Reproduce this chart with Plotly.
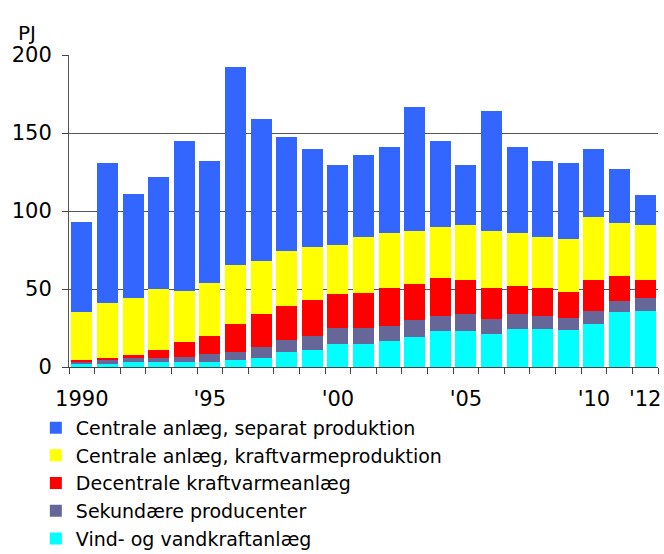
import plotly.graph_objects as go

years = [str(y) for y in range(1990, 2013)]
tick_labels = ["1990", "", "", "", "", "'95", "", "", "", "", "'00", "", "", "", "",
               "'05", "", "", "", "", "'10", "", "'12"]

vind = [2.1, 2.1, 3.4, 3.4, 3.4, 3.4, 4.7, 6.0, 9.8, 11.1, 14.9, 14.9, 16.9, 19.4,
        23.3, 23.3, 21.3, 24.5, 24.5, 23.9, 27.7, 35.4, 36.1]
sekundaere = [1.3, 2.6, 2.6, 2.6, 3.2, 5.1, 5.1, 7.0, 7.7, 9.0, 10.3, 10.3, 9.6, 10.9,
              9.6, 10.9, 9.6, 9.7, 8.4, 7.7, 8.4, 7.1, 8.3]
decentrale = [1.3, 1.3, 1.9, 5.1, 9.6, 11.6, 17.9, 21.2, 21.8, 23.0, 21.8, 22.4, 24.3,
              23.1, 24.3, 21.7, 19.9, 17.9, 17.9, 16.6, 19.8, 16.0, 11.5]
kraftvarme = [30.7, 35.2, 36.5, 39.1, 32.7, 33.9, 37.8, 33.9, 35.2, 34.0, 31.3, 35.9,
              35.2, 33.9, 32.7, 35.2, 36.5, 33.9, 32.7, 34.0, 40.4, 33.9, 35.2]
separat = [57.7, 89.6, 66.6, 71.7, 96.0, 78.1, 126.8, 90.9, 73.0, 62.7, 51.3, 52.5,
           55.1, 79.4, 55.0, 38.5, 76.8, 55.1, 48.6, 48.6, 43.5, 34.6, 19.3]

series_names = ["Vind- og vandkraftanlæg", "Sekundære producenter",
                "Decentrale kraftvarmeanlæg", "Centrale anlæg, kraftvarmeproduktion",
                "Centrale anlæg, separat produktion"]
series_values = [vind, sekundaere, decentrale, kraftvarme, separat]
series_colors = ["#00FFFF", "#666699", "#FF0000", "#FFFF00", "#3366FF"]

fig = go.Figure()
for name, vals, color in zip(series_names, series_values, series_colors):
    fig.add_trace(go.Bar(x=years, y=vals, name=name, marker_color=color,
                         marker_line_width=0))

FONT = "DejaVu Sans"
fig.update_layout(
    width=664, height=554,
    margin=dict(l=69, r=6.3, t=55, b=186.6, pad=0, autoexpand=False),
    barmode="stack", bargap=0.18,
    paper_bgcolor="white", plot_bgcolor="white",
    font=dict(family=FONT, size=21, color="black"),
    showlegend=True,
    legend=dict(traceorder="reversed", orientation="v",
                x=-0.0563, xanchor="left", y=-0.134, yanchor="top",
                font=dict(family=FONT, size=19, color="black"),
                bgcolor="rgba(0,0,0,0)"),
    xaxis=dict(type="category", tickmode="array", tickvals=years, ticktext=tick_labels,
               tickson="boundaries", ticks="outside", ticklen=6, tickcolor="#444",
               showline=True, linecolor="#444", linewidth=1, showgrid=False,
               tickangle=0, automargin=False,
               ticklabelstandoff=13, tickfont=dict(size=21),
               range=[-0.5, 22.5]),
    yaxis=dict(range=[0, 200], dtick=50, tickmode="linear", tick0=0,
               ticks="outside", ticklen=6, tickcolor="#444",
               showline=True, linecolor="#555", linewidth=1,
               showgrid=True, gridcolor="#555", gridwidth=1, automargin=False,
               zeroline=False, ticklabelstandoff=6, tickfont=dict(size=21)),
    annotations=[dict(text="PJ", xref="paper", yref="paper", x=-0.0713, y=1.069,
                      xanchor="center", yanchor="middle", showarrow=False,
                      font=dict(family=FONT, size=20, color="black"))],
)

# remove the browser's default 8px page margin so the figure fills the window
fig.write_html("out.html",
               config={"displayModeBar": False},
               post_script="document.body.style.margin='0';"
                           "document.documentElement.style.overflow='hidden';")
